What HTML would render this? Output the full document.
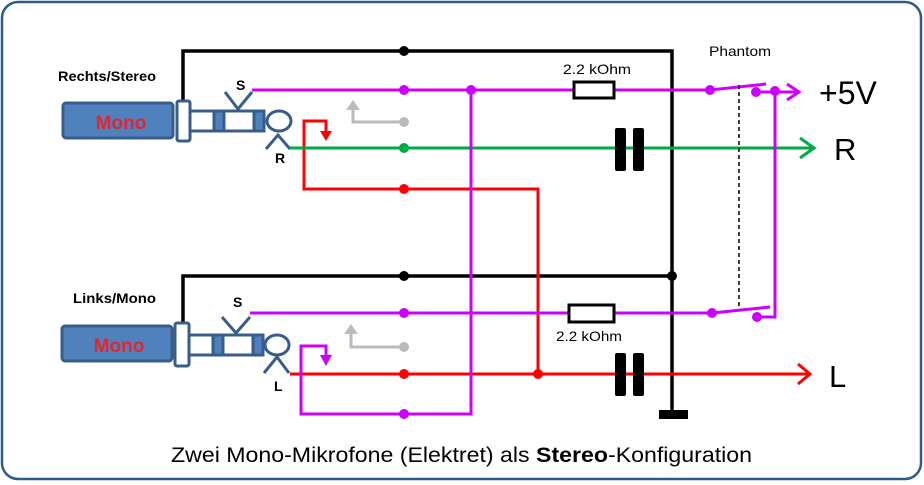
<!DOCTYPE html>
<html><head><meta charset="utf-8"><style>
html,body{margin:0;padding:0;background:#fff;}
svg{display:block;}
text{font-family:"Liberation Sans",sans-serif;}
</style></head><body>
<svg width="924" height="485" viewBox="0 0 924 485" xmlns="http://www.w3.org/2000/svg">
<rect x="2" y="2" width="919" height="477" rx="16" fill="#fff" stroke="#2f5a8c" stroke-width="2.5"/>

<!-- ground black -->
<g stroke="#000" stroke-width="3.5" fill="none">
<polyline points="183,101 183,51 672,51 672,412"/>
<polyline points="183,323 183,276 672,276"/>
</g>
<rect x="659" y="410" width="29" height="9" fill="#000"/>
<circle cx="404" cy="51" r="5" fill="#000"/>
<circle cx="404" cy="276" r="5" fill="#000"/>
<circle cx="672" cy="276" r="5" fill="#000"/>

<!-- jacks -->
<g stroke="#385d8a" stroke-width="3">
<rect x="63" y="103" width="110" height="35" rx="3" fill="#4f81bd"/>
<rect x="177" y="101" width="13" height="40" rx="2" fill="#fff"/>
<rect x="190" y="111" width="24" height="20" fill="#fff"/>
<rect x="214" y="111" width="10" height="20" fill="#4f81bd"/>
<rect x="224" y="111" width="30" height="20" fill="#fff"/>
<rect x="254" y="111" width="10" height="20" fill="#4f81bd"/>
<ellipse cx="279" cy="121" rx="12" ry="10" fill="#fff"/>
<polyline points="225,92 238,109 252,92" fill="none"/>
<polyline points="266,149 278,135 290,149" fill="none"/>

<rect x="62" y="326" width="110" height="35" rx="3" fill="#4f81bd"/>
<rect x="175" y="323" width="14" height="43" rx="2" fill="#fff"/>
<rect x="189" y="335" width="24" height="20" fill="#fff"/>
<rect x="213" y="335" width="10" height="20" fill="#4f81bd"/>
<rect x="223" y="335" width="30" height="20" fill="#fff"/>
<rect x="253" y="335" width="10" height="20" fill="#4f81bd"/>
<ellipse cx="277" cy="345" rx="12" ry="10" fill="#fff"/>
<polyline points="222,317 236,333 250,317" fill="none"/>
<polyline points="264,373 277,357 289,373" fill="none"/>
</g>
<text x="121" y="129" font-size="19" font-weight="bold" fill="#e3262e" text-anchor="middle">Mono</text>
<text x="119" y="352" font-size="19" font-weight="bold" fill="#e3262e" text-anchor="middle">Mono</text>

<!-- labels -->
<g font-size="14" font-weight="bold" fill="#000">
<text x="58" y="81" textLength="98" lengthAdjust="spacingAndGlyphs">Rechts/Stereo</text>
<text x="73" y="303" textLength="83" lengthAdjust="spacingAndGlyphs">Links/Mono</text>
<text x="236" y="90">S</text>
<text x="275" y="163">R</text>
<text x="233" y="307">S</text>
<text x="274" y="391">L</text>
</g>

<!-- grey -->
<g stroke="#bbb" stroke-width="3" fill="none">
<polyline points="404,122 353,122 353,108"/>
<polyline points="404,347 351,347 351,332"/>
</g>
<path d="M346,110 L353,100 L360,110Z" fill="#bbb"/>
<path d="M344,334 L351,324 L358,334Z" fill="#bbb"/>
<circle cx="404" cy="122" r="5" fill="#bbb"/>
<circle cx="404" cy="347" r="5" fill="#bbb"/>

<!-- red -->
<g stroke="#f00" stroke-width="3" fill="none">
<polyline points="404,189 304,189 304,121 326,121 326,133"/>
<polyline points="404,189 538,189 538,374"/>
<line x1="290" y1="374" x2="808" y2="374"/>
<polyline points="798,364 810,374 798,384"/>
</g>
<path d="M320,131 L326,141 L332,131Z" fill="#f00"/>
<circle cx="404" cy="189" r="5" fill="#f00"/>
<circle cx="404" cy="374" r="5" fill="#f00"/>
<circle cx="538" cy="374" r="5" fill="#f00"/>

<!-- green -->
<g stroke="#0a4" stroke-width="3" fill="none">
<line x1="290" y1="148" x2="814" y2="148"/>
<polyline points="800,138 814,148 800,158"/>
</g>
<circle cx="404" cy="148" r="5" fill="#0a4"/>

<!-- purple -->
<g stroke="#c0f" stroke-width="3" fill="none">
<line x1="252" y1="90" x2="710" y2="90"/>
<line x1="250" y1="313" x2="712" y2="313"/>
<polyline points="471,90 471,414 404,414 301,414 301,346 326,346 326,357"/>
<line x1="710" y1="90" x2="766" y2="84"/>
<line x1="712" y1="313" x2="770" y2="307"/>
<polyline points="756,92 798,92"/>
<polyline points="787,84 799,92 787,100"/>
<polyline points="775,92 775,317 757,317"/>
</g>
<path d="M320,355 L326,366 L332,355Z" fill="#c0f"/>
<g fill="#c0f">
<circle cx="404" cy="90" r="5"/><circle cx="471" cy="90" r="5"/>
<circle cx="404" cy="313" r="5"/><circle cx="404" cy="414" r="5"/>
<circle cx="710" cy="90" r="5"/><circle cx="756" cy="92" r="5"/><circle cx="775" cy="91" r="5"/>
<circle cx="712" cy="313" r="5"/><circle cx="757" cy="317" r="5"/>
</g>
<line x1="739" y1="85" x2="739" y2="308" stroke="#000" stroke-width="1.5" stroke-dasharray="4,3"/>

<!-- resistors -->
<rect x="574" y="82" width="40" height="16" fill="#fff" stroke="#000" stroke-width="3"/>
<rect x="569" y="305" width="45" height="17" fill="#fff" stroke="#000" stroke-width="3"/>
<text x="563" y="74" font-size="14" textLength="68" lengthAdjust="spacingAndGlyphs">2.2 kOhm</text>
<text x="556" y="341" font-size="14" textLength="66" lengthAdjust="spacingAndGlyphs">2.2 kOhm</text>

<!-- capacitors -->
<rect x="615" y="128" width="11" height="43" rx="2" fill="#000"/>
<rect x="633" y="128" width="11" height="43" rx="2" fill="#000"/>
<rect x="615" y="353" width="11" height="43" rx="2" fill="#000"/>
<rect x="633" y="353" width="11" height="43" rx="2" fill="#000"/>

<text x="709" y="56" font-size="14" textLength="62" lengthAdjust="spacingAndGlyphs">Phantom</text>
<text x="819" y="104" font-size="32">+5V</text>
<text x="834" y="160" font-size="31">R</text>
<text x="829" y="387" font-size="31">L</text>

<text x="171" y="462" font-size="21" textLength="581" lengthAdjust="spacingAndGlyphs">Zwei Mono-Mikrofone (Elektret) als <tspan font-weight="bold">Stereo</tspan>-Konfiguration</text>
</svg>
</body></html>
